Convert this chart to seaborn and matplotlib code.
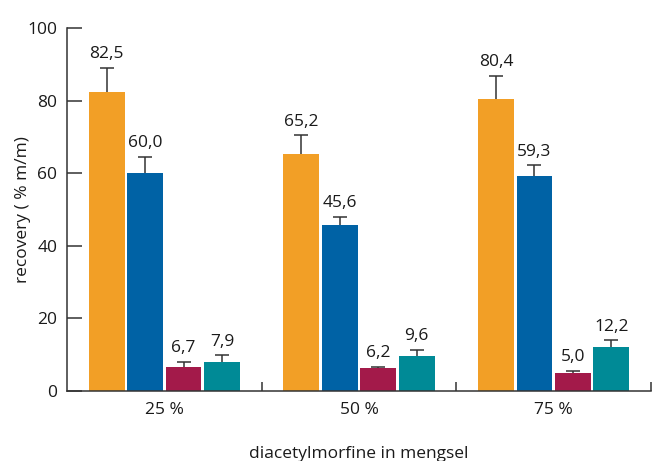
import matplotlib
matplotlib.use("Agg")
import matplotlib.pyplot as plt
from matplotlib.ticker import FixedLocator
import seaborn as sns
import pandas as pd

# Mixture percentages on the x axis
categories = ["25 %", "50 %", "75 %"]

# Four measured series per mixture (recovery in % m/m) and their upper deviations
series_names = ["s1", "s2", "s3", "s4"]
s1_values = [82.5, 65.2, 80.4]
s2_values = [60.0, 45.6, 59.3]
s3_values = [6.7, 6.2, 5.0]
s4_values = [7.9, 9.6, 12.2]
s1_err = [6.5, 5.2, 6.4]
s2_err = [4.5, 2.4, 2.9]
s3_err = [1.3, 0.5, 0.6]
s4_err = [2.0, 1.7, 1.8]

colors = ["#F29F26", "#0062A5", "#A31A4A", "#008A96"]
all_values = [s1_values, s2_values, s3_values, s4_values]
all_errs = [s1_err, s2_err, s3_err, s4_err]

rows = []
for name, vals in zip(series_names, all_values):
    for cat, v in zip(categories, vals):
        rows.append({"mengsel": cat, "serie": name, "recovery": v})
df = pd.DataFrame(rows)

sns.set_style("white")
plt.rcParams["font.family"] = ["Open Sans", "DejaVu Sans"]
fs = 12.5
txt = "#1a1a1a"

fig = plt.figure(figsize=(6.52, 4.61), dpi=100)
ax = fig.add_axes([67 / 652, 1 - 391 / 461, 584 / 652, 363 / 461])

sns.barplot(data=df, x="mengsel", y="recovery", hue="serie",
            order=categories, hue_order=series_names,
            palette=colors, width=0.79, gap=0.07, errorbar=None,
            saturation=1, legend=False, ax=ax, linewidth=0)

edge = "#333333"
for cont, errs, vals in zip(ax.containers, all_errs, all_values):
    xs = [p.get_x() + p.get_width() / 2 for p in cont]
    tops = [v + e for v, e in zip(vals, errs)]
    # upward-only error bars with a single cap
    ax.vlines(xs, vals, tops, color=edge, linewidth=1.1, zorder=3)
    ax.plot(xs, tops, ls="none", marker="_", ms=10, mew=1.1, color=edge, zorder=3)
    for x, v, t in zip(xs, vals, tops):
        ax.annotate(f"{v:.1f}".replace(".", ","), (x, t),
                    xytext=(0, 4), textcoords="offset points",
                    ha="center", va="bottom", fontsize=fs, color=txt)

ax.set_ylim(0, 100)
ax.set_xlim(-0.5, 2.5)
ax.set_yticks([0, 20, 40, 60, 80, 100])
ax.tick_params(axis="y", direction="in", length=11, width=1.1, color=edge,
               pad=7, labelsize=fs, labelcolor=txt, left=True)
ax.set_xticks([0, 1, 2])
ax.set_xticklabels(categories)
ax.tick_params(axis="x", which="major", length=0, pad=8, labelsize=fs,
               labelcolor=txt)
ax.xaxis.set_minor_locator(FixedLocator([0.5, 1.5, 2.5]))
ax.tick_params(axis="x", which="minor", direction="in", length=6.5, width=1.1,
               color=edge, bottom=True)

for side in ["top", "right"]:
    ax.spines[side].set_visible(False)
for side in ["left", "bottom"]:
    ax.spines[side].set_color(edge)
    ax.spines[side].set_linewidth(1.1)

ax.set_ylabel("recovery ( % m/m)", fontsize=fs, color=txt, labelpad=-3)
ax.set_xlabel("diacetylmorfine in mengsel", fontsize=fs, color=txt,
              labelpad=20)

fig.savefig("out.png", dpi=100)
